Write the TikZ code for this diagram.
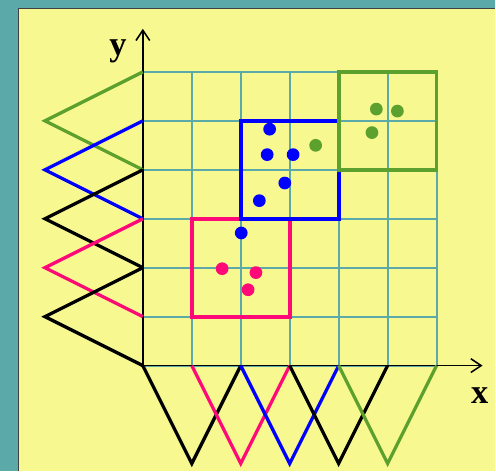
\documentclass[tikz,border=0pt]{standalone}
\usepackage{fontspec}
\setmainfont{Liberation Serif}
\usetikzlibrary{arrows.meta}
\definecolor{bgteal}{RGB}{91,170,169}
\definecolor{panel}{RGB}{248,248,145}
\definecolor{gridc}{RGB}{91,170,169}
\definecolor{cgreen}{RGB}{92,160,45}
\definecolor{cpink}{RGB}{255,8,120}
\definecolor{cblue}{RGB}{0,0,255}

\begin{document}
\begin{tikzpicture}[>={Straight Barb[length=6pt,width=8pt]}, line join=miter,
  zig/.style={line width=1.9pt},
  box/.style={line width=2.2pt},
  dot/.style={radius=0.13},
  axlab/.style={font=\fontsize{20}{22}\selectfont\bfseries}]
% 背景与面板
\fill[bgteal] (-2.918,-2.163) rectangle (7.204,7.469);
\fill[panel] (-2.531,-2.163) rectangle (7.204,7.296);
\draw[line width=0.6pt, black!75] (-2.531,-2.163) -- (-2.531,7.296) -- (7.204,7.296);
% 网格
\draw[gridc, line width=1.2pt] (0,0) grid (6,6);
% 坐标轴
\coordinate (O) at (0,0);
\coordinate (xend) at (6.94,0);
\coordinate (yend) at (0,6.88);
\draw[->, line width=0.9pt] (O) -- (xend);
\draw[->, line width=0.9pt] (O) -- (yend);
\node[axlab] (ylab) at (-0.51,6.42) {y};
\node[axlab] (xlab) at (6.88,-0.62) {x};
% 左侧锯齿
\draw[zig, cgreen] (0,6) -- (-2,5) -- (0,4);
\draw[zig, cblue] (0,5) -- (-2,4) -- (0,3);
\draw[zig, black] (0,4) -- (-2,3) -- (0,2);
\draw[zig, cpink] (0,3) -- (-2,2) -- (0,1);
\draw[zig, black] (0,2) -- (-2,1) -- (0,0);
% 下方锯齿
\draw[zig, black] (0,0) -- (1,-2) -- (2,0);
\draw[zig, cpink] (1,0) -- (2,-2) -- (3,0);
\draw[zig, cblue] (2,0) -- (3,-2) -- (4,0);
\draw[zig, black] (3,0) -- (4,-2) -- (5,0);
\draw[zig, cgreen] (4,0) -- (5,-2) -- (6,0);
% 方框
\draw[box, cpink] (1,1) rectangle (3,3);
\draw[box, cblue] (2,3) rectangle (4,5);
\draw[box, cgreen] (4,4) rectangle (6,6);
% 点
\fill[cblue, dot] (2.59,4.83) circle;
\fill[cblue, dot] (2.54,4.31) circle;
\fill[cblue, dot] (3.07,4.31) circle;
\fill[cblue, dot] (2.90,3.73) circle;
\fill[cblue, dot] (2.38,3.37) circle;
\fill[cblue, dot] (2.01,2.71) circle;
\fill[cgreen, dot] (3.53,4.50) circle;
\fill[cpink, dot] (1.62,1.98) circle;
\fill[cpink, dot] (2.31,1.90) circle;
\fill[cpink, dot] (2.15,1.55) circle;
\fill[cgreen, dot] (4.77,5.24) circle;
\fill[cgreen, dot] (5.20,5.20) circle;
\fill[cgreen, dot] (4.68,4.76) circle;
\end{tikzpicture}
\end{document}
